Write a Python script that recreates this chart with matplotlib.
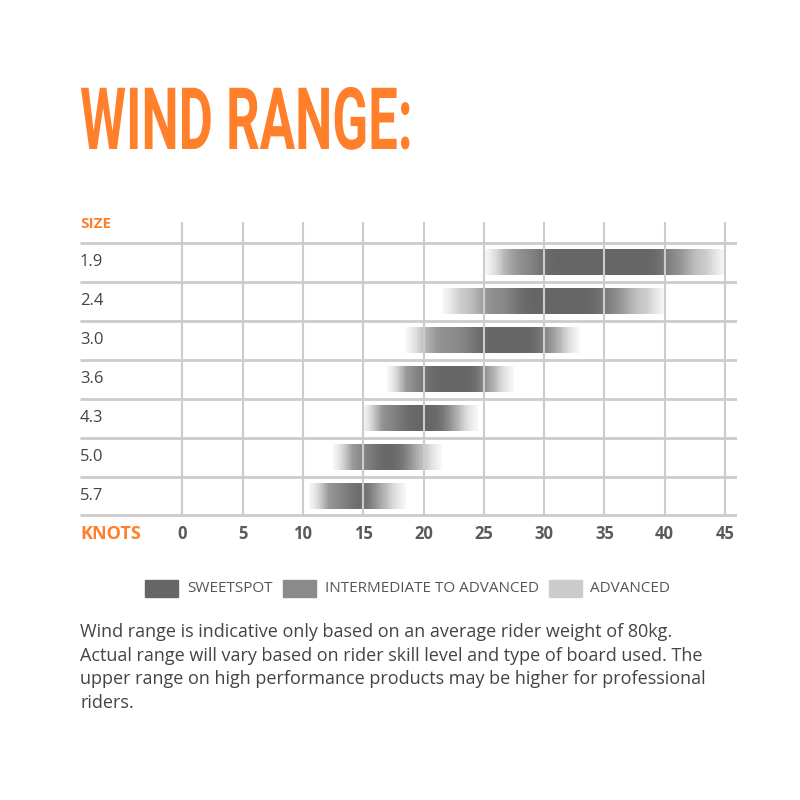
import numpy as np
import matplotlib
matplotlib.use("Agg")
from matplotlib import pyplot as plt
from matplotlib.patches import Rectangle
from matplotlib.patheffects import AbstractPathEffect
from matplotlib.transforms import Affine2D

# kite sizes, top to bottom
sizes = ["1.9", "2.4", "3.0", "3.6", "4.3", "5.0", "5.7"]

# wind ranges in knots (low, high) for each zone
advanced = [(25, 45), (21.5, 40), (18.5, 33), (17, 27.5), (15, 24.5), (12.5, 21.5), (10.5, 18.5)]
intermediate = [(27, 42), (24.5, 37), (20.5, 31), (18, 25.5), (15.7, 22.5), (13.5, 19.3), (11.5, 16.3)]
sweetspot = [(29.5, 40), (27.5, 35), (24, 30), (20, 25), (18, 22), (15.7, 18.5), (13.8, 15.8)]

knots = [0, 5, 10, 15, 20, 25, 30, 35, 40, 45]

orange = "#FF7F2A"
grid_c = "#cccccc"
gray_sweet = 0.40
gray_inter = 0.55
gray_adv = 0.80


class Squeeze(AbstractPathEffect):
    # narrow the glyphs horizontally (condensed look)
    def __init__(self, sx):
        super().__init__()
        self.sx = sx

    def draw_path(self, renderer, gc, tpath, affine, rgbFace=None):
        renderer.draw_path(gc, tpath, Affine2D().scale(self.sx, 1) + affine, rgbFace)


plt.rcParams["font.family"] = ["Open Sans", "DejaVu Sans"]

fig = plt.figure(figsize=(8, 8), dpi=100)
fig.patch.set_facecolor("white")

# axes placed so that x=0 -> 182px, x=45 -> 725px, lines every 39px
ax = fig.add_axes([0.1, 1 - 545 / 800, 0.82125, 330 / 800])
ax.axis("off")

# blurred bars
xs = np.arange(-2, 48, 0.02)
sig = 0.75
kx = np.arange(-4 * sig, 4 * sig + 0.01, 0.02)
kern = np.exp(-0.5 * (kx / sig) ** 2)
kern /= kern.sum()
bar_h = 0.66
fade = 1.6
for i in range(len(sizes)):
    prof = np.ones_like(xs)
    lo, hi = advanced[i]
    prof[(xs >= lo) & (xs <= hi)] = gray_adv
    lo, hi = intermediate[i]
    prof[(xs >= lo) & (xs <= hi)] = gray_inter
    lo, hi = sweetspot[i]
    prof[(xs >= lo) & (xs <= hi)] = gray_sweet
    prof = np.convolve(np.pad(prof, len(kx), mode="edge"), kern, mode="same")[len(kx):-len(kx)]
    lo, hi = advanced[i]
    m = (xs >= lo) & (xs <= hi)
    # soften the outer ends towards white
    d = np.minimum(xs - lo, hi - xs)
    ramp = np.clip(0.25 + 0.75 * d / fade, 0, 1)
    prof = 1 - (1 - prof) * ramp
    img = prof[m][None, :]
    yc = i + 0.5
    ax.imshow(img, cmap="gray", vmin=0, vmax=1, aspect="auto",
              extent=[xs[m][0], xs[m][-1], yc + bar_h / 2, yc - bar_h / 2],
              interpolation="bilinear", zorder=1)

# grid
for k in knots:
    ax.plot([k, k], [-0.55, 7], color=grid_c, lw=1.5, zorder=3, solid_capstyle="butt")
for j in range(len(sizes) + 1):
    ax.plot([-8.5, 46], [j, j], color=grid_c, lw=2, zorder=3, solid_capstyle="butt")

ax.set_xlim(-8.5, 46)
ax.set_ylim(7.76, -0.72)

# labels
for i, s in enumerate(sizes):
    ax.text(-8.5, i + 0.5, s, ha="left", va="center", fontsize=12, color="#444444")
ax.text(-8.5, -0.48, "SIZE", ha="left", va="center", fontsize=11,
        fontweight="bold", color=orange)
ax.text(-8.5, 7.48, "KNOTS", ha="left", va="center", fontsize=13,
        fontweight="bold", color=orange)
for k in knots:
    ax.text(k, 7.48, str(k), ha="center", va="center", fontsize=12,
            fontweight="bold", color="#5a5a5a")

# title, condensed to the reference width
title = fig.text(0.1, 1 - 149 / 800, "WIND RANGE:", ha="left", va="baseline",
                 fontsize=62, fontweight="bold", color=orange,
                 family=["Roboto", "DejaVu Sans"])
w = title.get_window_extent(fig.canvas.get_renderer()).width
title.set_path_effects([Squeeze(333 / w)])

# legend
leg_items = [("SWEETSPOT", "#666666", 145, 187),
             ("INTERMEDIATE TO ADVANCED", "#8a8a8a", 283, 325),
             ("ADVANCED", "#cccccc", 549, 590)]
for name, col, sx, tx in leg_items:
    fig.patches.append(Rectangle((sx / 800, 1 - 597 / 800), 33 / 800, 17 / 800,
                                 transform=fig.transFigure, color=col, figure=fig))
    fig.text(tx / 800, 1 - 588.5 / 800, name, ha="left", va="center",
             fontsize=11, color="#555555")

# note
note = ["Wind range is indicative only based on an average rider weight of 80kg.",
        "Actual range will vary based on rider skill level and type of board used. The",
        "upper range on high performance products may be higher for professional",
        "riders."]
for n, line in enumerate(note):
    fig.text(0.1, 1 - (632 + 23.7 * n) / 800, line, ha="left", va="center",
             fontsize=13, color="#444444")

fig.savefig("out.png", dpi=100, facecolor="white")
